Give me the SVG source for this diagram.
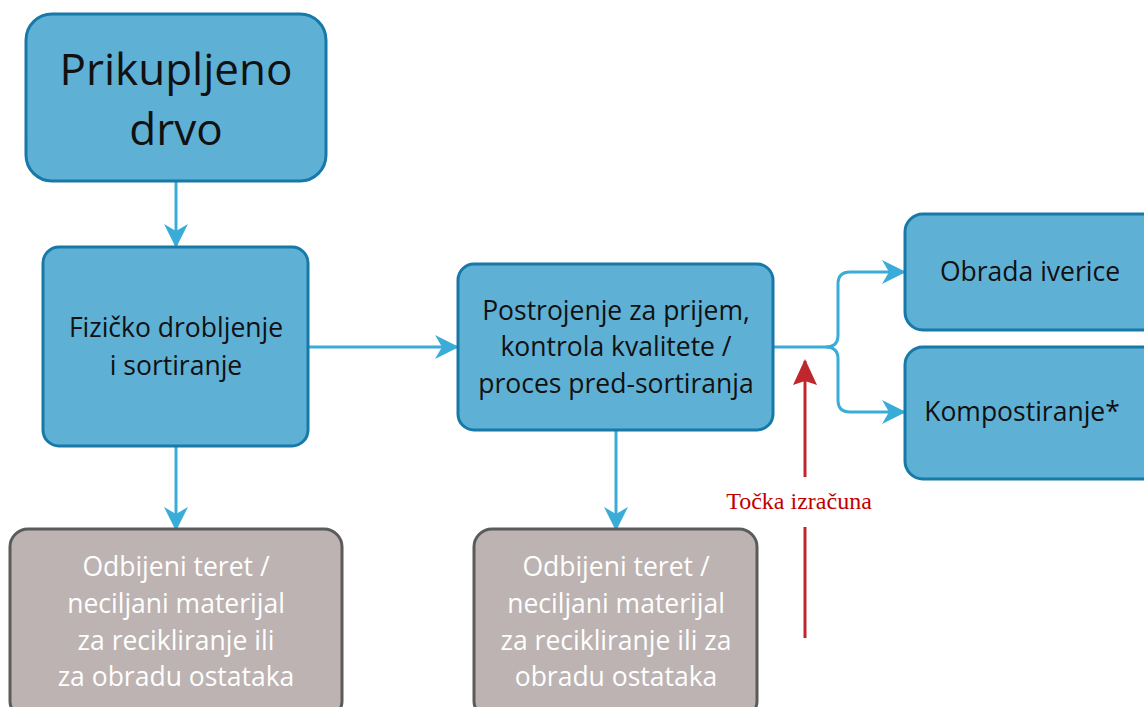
<svg xmlns="http://www.w3.org/2000/svg" width="1144" height="707" viewBox="0 0 1144 707">
<style>
.blue{fill:#5fb0d5;stroke:#1779a7;stroke-width:3}
.gray{fill:#bcb3b2;stroke:#5b5b5b;stroke-width:3}
.t{font-family:"Open Sans","Noto Sans",sans-serif;fill:#111;text-anchor:middle}
.m{font-size:26.5px}
.w{font-family:"Open Sans","Noto Sans",sans-serif;fill:#fff;text-anchor:middle;font-size:26.5px}
.c{fill:none;stroke:#3aacd8;stroke-width:3}
.r{fill:none;stroke:#c0272d;stroke-width:3}
</style>
<defs>
<marker id="ab" viewBox="0 0 24 24" refX="22" refY="12" markerWidth="24" markerHeight="24" markerUnits="userSpaceOnUse" orient="auto">
<path d="M0,0 L24,12 L0,24 L7,12 Z" fill="#3aacd8"/>
</marker>
<marker id="ar" viewBox="0 0 26 24" refX="24" refY="12" markerWidth="26" markerHeight="24" markerUnits="userSpaceOnUse" orient="auto">
<path d="M0,0 L26,12 L0,24 L4,12 Z" fill="#c0272d"/>
</marker>
</defs>
<g id="connectors">
<path class="c" d="M176,181 V246" marker-end="url(#ab)"/>
<path class="c" d="M176,446 V529" marker-end="url(#ab)"/>
<path class="c" d="M308,347 H457" marker-end="url(#ab)"/>
<path class="c" d="M616,430 V529" marker-end="url(#ab)"/>
<path class="c" d="M773,347 H826 Q838,347 838,335 V284 Q838,272 850,272 H904" marker-end="url(#ab)"/>
<path class="c" d="M826,347 Q838,347 838,359 V400 Q838,412 850,412 H904" marker-end="url(#ab)"/>
<path class="r" d="M805,477 V361" marker-end="url(#ar)"/>
<path class="r" d="M805,527 V638"/>
</g>
<g id="n1">
<rect class="blue" x="26" y="14" width="300" height="167" rx="26"/>
<text class="t" font-size="44" x="176" y="85">Prikupljeno</text>
<text class="t" font-size="44" x="176" y="145">drvo</text>
</g>
<g id="n2">
<rect class="blue" x="43" y="247" width="265" height="199" rx="16"/>
<text class="t m" x="176" y="337">Fizičko drobljenje</text>
<text class="t m" x="176" y="375">i sortiranje</text>
</g>
<g id="n3">
<rect class="gray" x="10" y="529" width="332" height="190" rx="18"/>
<text class="w" x="176" y="576">Odbijeni teret /</text>
<text class="w" x="176" y="613">neciljani materijal</text>
<text class="w" x="176" y="650">za recikliranje ili</text>
<text class="w" x="176" y="686">za obradu ostataka</text>
</g>
<g id="n4">
<rect class="blue" x="458" y="264" width="315" height="166" rx="16"/>
<text class="t m" x="616" y="320">Postrojenje za prijem,</text>
<text class="t m" x="616" y="356">kontrola kvalitete /</text>
<text class="t m" x="616" y="393">proces pred-sortiranja</text>
</g>
<g id="n5">
<rect class="gray" x="474" y="529" width="283" height="190" rx="18"/>
<text class="w" x="616" y="576">Odbijeni teret /</text>
<text class="w" x="616" y="613">neciljani materijal</text>
<text class="w" x="616" y="650">za recikliranje ili za</text>
<text class="w" x="616" y="686">obradu ostataka</text>
</g>
<g id="n6">
<rect class="blue" x="905" y="214" width="260" height="116" rx="18"/>
<text class="t m" x="1030" y="281">Obrada iverice</text>
</g>
<g id="n7">
<rect class="blue" x="905" y="347" width="260" height="132" rx="18"/>
<text class="t m" x="1022" y="421">Kompostiranje*</text>
</g>
<g id="label">
<text x="799" y="509" font-family="Liberation Serif,serif" font-size="24" fill="#c00000" text-anchor="middle">Točka izračuna</text>
</g>
</svg>
